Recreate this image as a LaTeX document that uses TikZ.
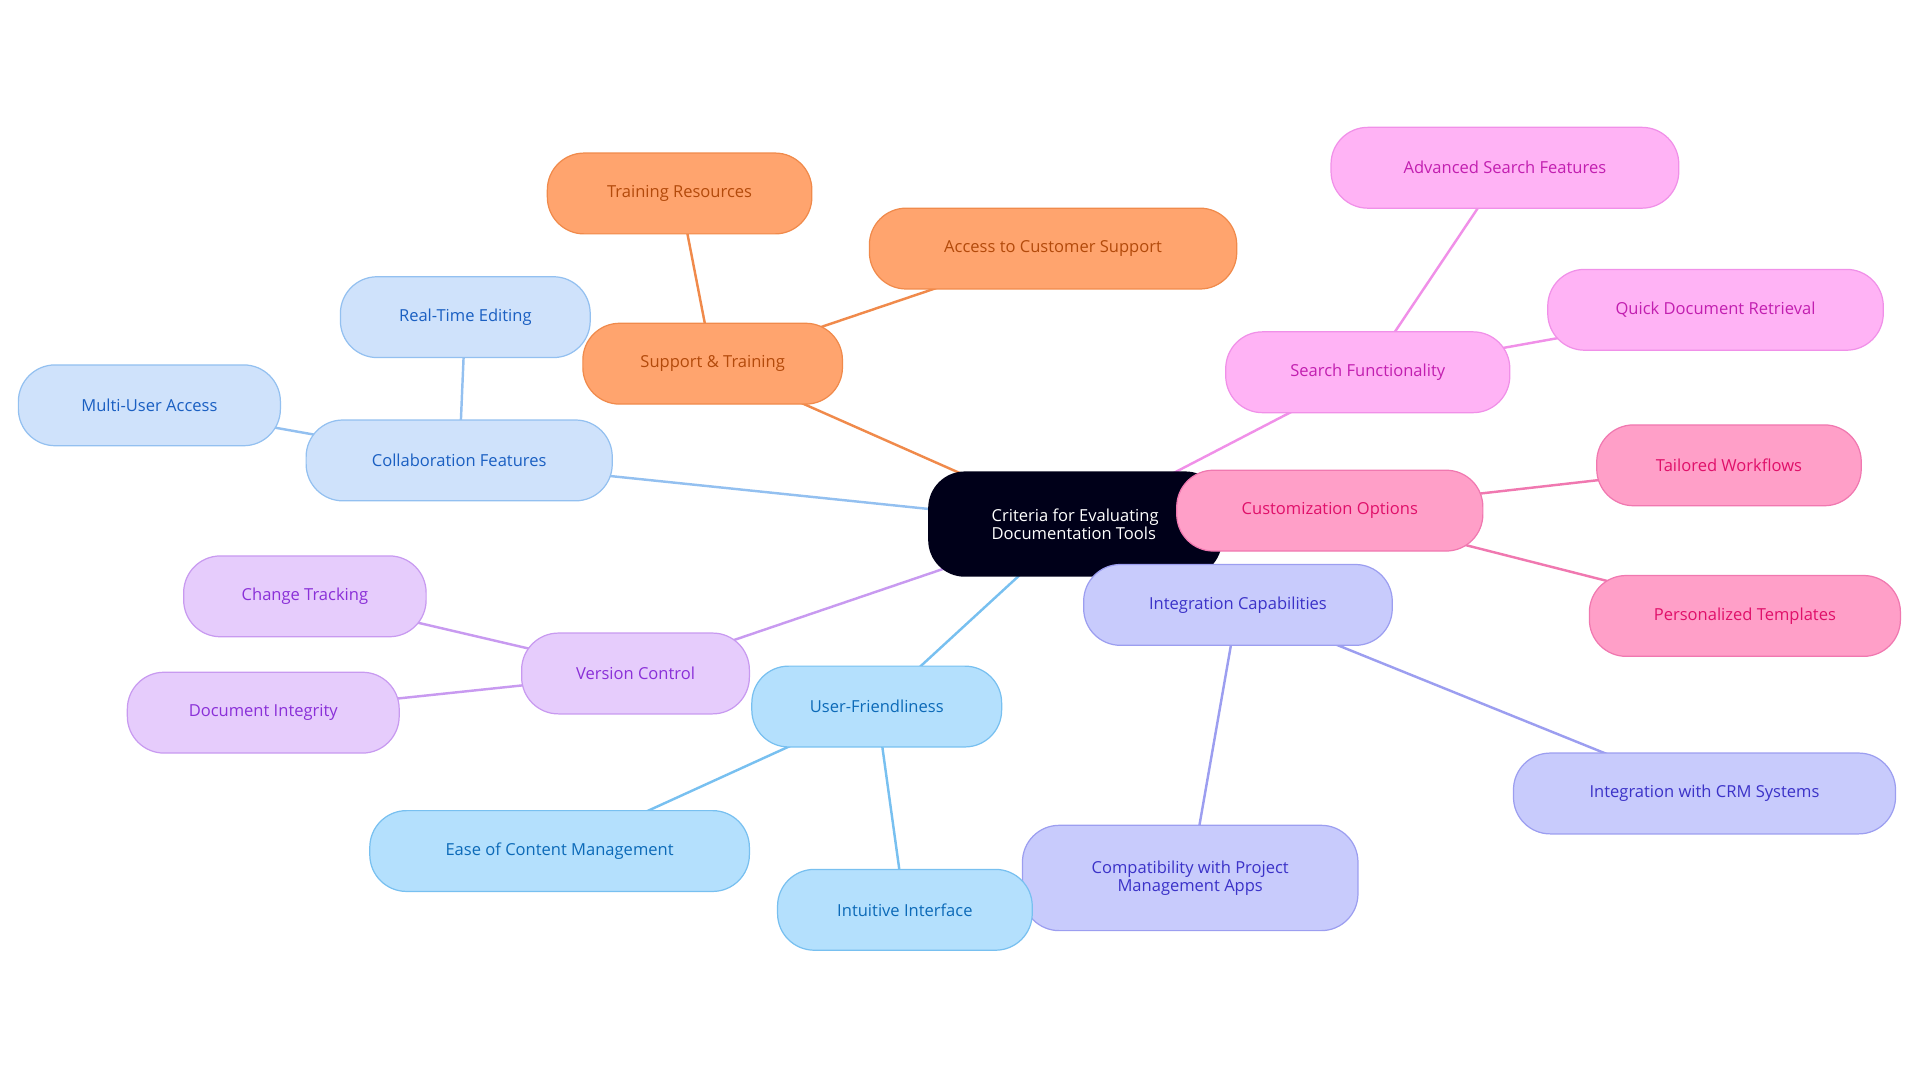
\documentclass[tikz,border=0pt]{standalone}
\usepackage{fontspec}
\setmainfont{Open Sans}
\usetikzlibrary{backgrounds}
\definecolor{colF}{HTML}{CFE2FB}\definecolor{colD}{HTML}{93C0F0}\definecolor{colT}{HTML}{1A5FC2}
\definecolor{supF}{HTML}{FFA46E}\definecolor{supD}{HTML}{F08A4B}\definecolor{supT}{HTML}{B34A0B}
\definecolor{seaF}{HTML}{FFB3F5}\definecolor{seaD}{HTML}{F090E8}\definecolor{seaT}{HTML}{C21FB0}
\definecolor{cusF}{HTML}{FF9FC8}\definecolor{cusD}{HTML}{F078B0}\definecolor{cusT}{HTML}{E0106A}
\definecolor{intF}{HTML}{C8CBFC}\definecolor{intD}{HTML}{9C9EF0}\definecolor{intT}{HTML}{3B32C8}
\definecolor{verF}{HTML}{E6CCFC}\definecolor{verD}{HTML}{C89AF0}\definecolor{verT}{HTML}{8A30D8}
\definecolor{usrF}{HTML}{B4E0FD}\definecolor{usrD}{HTML}{78C0F0}\definecolor{usrT}{HTML}{0C6AB8}
\begin{document}
\begin{tikzpicture}[x=1pt,y=-1pt,font=\fontsize{13.5}{15}\selectfont,
  pill/.style n args={3}{rectangle,rounded corners=30pt,minimum height=66pt,draw=#2,fill=#1,text=#3,line width=1pt,align=center},
  link/.style={line width=2pt,draw=#1}]
	\useasboundingbox (0,0) rectangle (1568,884);
	\node (root) [rectangle,rounded corners=30pt,fill=black!90!blue,text=white,minimum width=240pt,minimum height=86pt,align=left] at (878,428) {Criteria for Evaluating\\Documentation Tools};

	\node (collab) [pill={colF}{colD}{colT},minimum width=250pt] at (375,376) {Collaboration Features};
	\node (rte) [pill={colF}{colD}{colT},minimum width=204pt] at (380,259) {Real-Time Editing};
	\node (mua) [pill={colF}{colD}{colT},minimum width=214pt] at (122,331) {Multi-User Access};

	\node (support) [pill={supF}{supD}{supT},minimum width=212pt] at (582,297) {Support \& Training};
	\node (train) [pill={supF}{supD}{supT},minimum width=216pt] at (555,158) {Training Resources};
	\node (access) [pill={supF}{supD}{supT},minimum width=300pt] at (860,203) {Access to Customer Support};

	\node (search) [pill={seaF}{seaD}{seaT},minimum width=232pt] at (1117,304) {Search Functionality};
	\node (adv) [pill={seaF}{seaD}{seaT},minimum width=284pt] at (1229,137) {Advanced Search Features};
	\node (quick) [pill={seaF}{seaD}{seaT},minimum width=274pt] at (1401,253) {Quick Document Retrieval};

	\node (custom) [pill={cusF}{cusD}{cusT},minimum width=250pt] at (1086,417) {Customization Options};
	\node (tail) [pill={cusF}{cusD}{cusT},minimum width=216pt] at (1412,380) {Tailored Workflows};
	\node (templ) [pill={cusF}{cusD}{cusT},minimum width=254pt] at (1425,503) {Personalized Templates};

	\node (integ) [pill={intF}{intD}{intT},minimum width=252pt] at (1011,494) {Integration Capabilities};
	\node (crm) [pill={intF}{intD}{intT},minimum width=312pt] at (1392,648) {Integration with CRM Systems};
	\node (compat) [pill={intF}{intD}{intT},minimum width=274pt,minimum height=86pt] at (972,717) {Compatibility with Project\\Management Apps};

	\node (version) [pill={verF}{verD}{verT},minimum width=186pt] at (519,550) {Version Control};
	\node (change) [pill={verF}{verD}{verT},minimum width=198pt] at (249,487) {Change Tracking};
	\node (integr) [pill={verF}{verD}{verT},minimum width=222pt] at (215,582) {Document Integrity};

	\node (user) [pill={usrF}{usrD}{usrT},minimum width=204pt] at (716,577) {User-Friendliness};
	\node (ease) [pill={usrF}{usrD}{usrT},minimum width=310pt] at (457,695) {Ease of Content Management};
	\node (intui) [pill={usrF}{usrD}{usrT},minimum width=208pt] at (739,743) {Intuitive Interface};

	\begin{scope}[on background layer]
	\draw[link=colD] (root.center) -- (collab.center) (collab.center) -- (rte.center) (collab.center) -- (mua.center);
	\draw[link=supD] (root.center) -- (support.center) (support.center) -- (train.center) (support.center) -- (access.center);
	\draw[link=seaD] (root.center) -- (search.center) (search.center) -- (adv.center) (search.center) -- (quick.center);
	\draw[link=cusD] (root.center) -- (custom.center) (custom.center) -- (tail.center) (custom.center) -- (templ.center);
	\draw[link=intD] (root.center) -- (integ.center) (integ.center) -- (crm.center) (integ.center) -- (compat.center);
	\draw[link=verD] (root.center) -- (version.center) (version.center) -- (change.center) (version.center) -- (integr.center);
	\draw[link=usrD] (root.center) -- (user.center) (user.center) -- (ease.center) (user.center) -- (intui.center);
	\end{scope}
\end{tikzpicture}
\end{document}
